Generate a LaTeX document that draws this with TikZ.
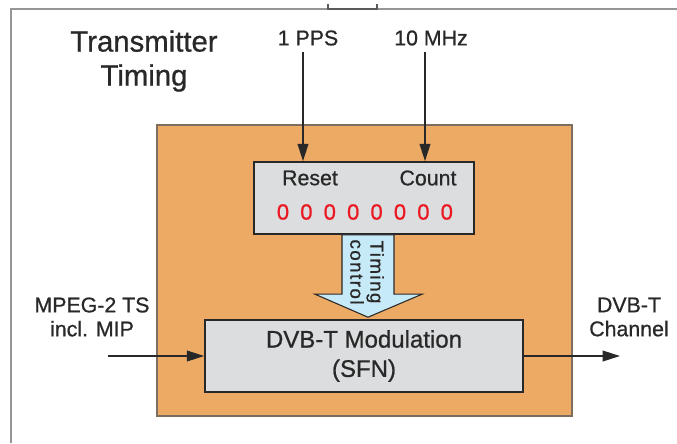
\documentclass[tikz,border=0pt]{standalone}
\usepackage{fontspec}
\setmainfont{Liberation Sans}[FakeBold=0.8]
\usetikzlibrary{positioning, calc, arrows.meta}
\definecolor{txorange}{RGB}{236,170,100}
\definecolor{txedge}{RGB}{125,110,95}
\definecolor{boxgray}{RGB}{220,221,223}
\definecolor{ctlblue}{RGB}{198,234,248}
\definecolor{digitred}{RGB}{235,25,35}
\definecolor{inkgray}{RGB}{40,40,40}
\definecolor{framegray}{RGB}{150,150,150}
\tikzset{
    %Define style for boxes
    txbox/.style={
           rectangle,
           draw=txedge, line width=1.2pt,
           fill=txorange,
           inner sep=0pt,
           minimum width=311.25pt,
           minimum height=218.25pt},
 %
    graybox/.style={
           rectangle,
           draw=inkgray, line width=1.2pt,
           fill=boxgray,
           inner sep=0pt,
           text=inkgray,
           align=center,
           minimum height=54pt},
 %
    lbl/.style={
           text=inkgray,
           inner sep=0pt,
           align=center,
           font=\fontsize{16}{18}\selectfont},
 %
    digit/.style={
           text=digitred,
           inner sep=0pt,
           font=\fontsize{16.5}{18}\selectfont},
 %
    % Define arrow style
    arrow/.style={
           -{Triangle[length=13pt,width=8pt]},
           draw=inkgray,
           line width=1.2pt},
 %
    fatarrow/.style={
           draw=inkgray,
           line width=0.8pt,
           fill=ctlblue}
}
\begin{document}
\begin{tikzpicture}[x=0.75pt, y=-0.75pt]
  \useasboundingbox (0,0) rectangle (677,443);
  % page frame
  \draw[framegray, line width=1.2pt] (11,443) -- (11,9) -- (677,9);
  \draw[framegray!60!black, line width=1pt] (328,4) -- (328,9) -- (377,9) -- (377,4);
  % boxes
  \node[txbox] (tx) at (364.5,270.5) {};
  \node[graybox, minimum width=165pt] (cnt) at (364,198) {};
  \node[graybox, minimum width=238.5pt, font=\fontsize{18}{22}\selectfont] (mod) at (364,356) {DVB-T Modulation\\(SFN)};
  % texts
  \node[lbl, font=\fontsize{22}{25.5}\selectfont] (title) at (144,61) {Transmitter\\Timing};
  \node[lbl] (pps) at (308,38) {1 PPS};
  \node[lbl] (mhz) at (431,38) {10 MHz};
  \node[lbl] (rst) at (310,178) {Reset};
  \node[lbl] (cntlbl) at (428,178) {Count};
  \foreach \i in {0,...,7}
    \node[digit] (d\i) at (283+23.4*\i,212) {0};
  \node[lbl] (tsin) at (92,317) {MPEG-2 TS\\incl. MIP};
  \node[lbl] (chout) at (629,317) {DVB-T\\Channel};
  % timing control arrow
  \draw[fatarrow] ($(cnt.south)+(-22,0)$) -- ($(mod.north)+(-22,-25)$)
    -- ($(mod.north)+(-49,-25)$) -- ($(mod.north)+(4,-2)$)
    -- ($(mod.north)+(58,-25)$) -- ($(mod.north)+(30,-25)$)
    -- ($(cnt.south)+(30,0)$) -- cycle;
  \node[lbl, rotate=-90, font=\fontsize{14}{15}\selectfont\addfontfeatures{LetterSpace=8}] (ctl) at (367,272) {Timing\\control};
  % connectors
  \coordinate (ppsin) at (303,52);
  \coordinate (mhzin) at (425,52);
  \coordinate (tsstart) at (108,356);
  \coordinate (chend) at (620,356);
  \draw[arrow] (ppsin) -- (ppsin |- cnt.north);
  \draw[arrow] (mhzin) -- (mhzin |- cnt.north);
  \draw[arrow] (tsstart) -- (mod.west);
  \draw[arrow] (mod.east) -- (chend);
\end{tikzpicture}
\end{document}
